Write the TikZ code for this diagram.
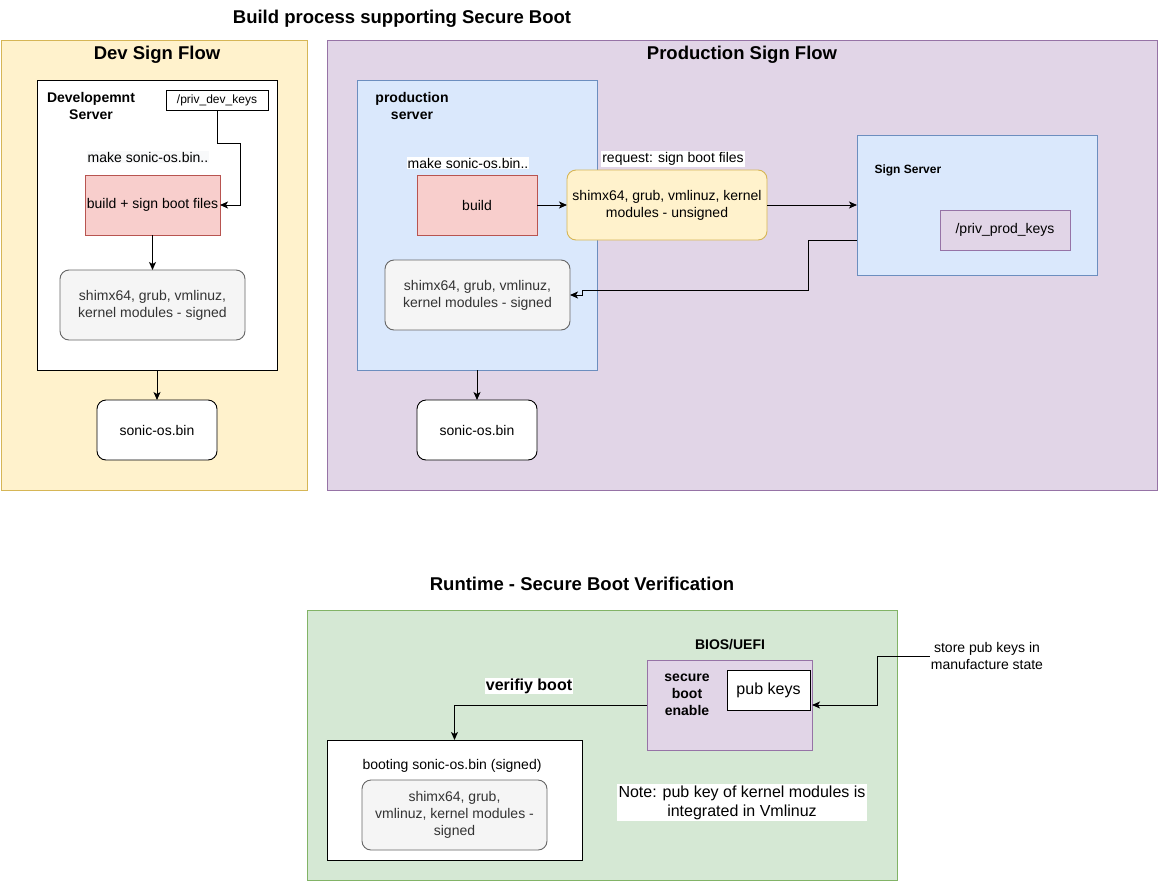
\documentclass[tikz,border=0pt]{standalone}
\usepackage{fontspec}
\setmainfont{Liberation Sans}
\usetikzlibrary{arrows.meta,calc}
\definecolor{yelF}{HTML}{FFF2CC}\definecolor{yelS}{HTML}{D6B656}
\definecolor{purF}{HTML}{E1D5E7}\definecolor{purS}{HTML}{9673A6}
\definecolor{bluF}{HTML}{DAE8FC}\definecolor{bluS}{HTML}{6C8EBF}
\definecolor{redF}{HTML}{F8CECC}\definecolor{redS}{HTML}{B85450}
\definecolor{greF}{HTML}{D5E8D4}\definecolor{greS}{HTML}{82B366}
\definecolor{gryF}{HTML}{F5F5F5}\definecolor{gryS}{HTML}{666666}
\definecolor{gryT}{HTML}{333333}\definecolor{offW}{HTML}{F8F9FA}
\begin{document}
\begin{tikzpicture}[x=1pt,y=-1pt,
  box/.style={draw, line width=0.9pt, inner sep=0pt, outer sep=0pt, align=center},
  cont/.style={box},
  t12/.style={font=\fontsize{12}{14}\selectfont},
  t14/.style={font=\fontsize{14}{17}\selectfont},
  t16/.style={font=\fontsize{16}{19}\selectfont},
  b12/.style={font=\fontsize{12}{14}\selectfont\bfseries},
  b14/.style={font=\fontsize{14}{17}\selectfont\bfseries},
  b16/.style={font=\fontsize{16}{19}\selectfont\bfseries},
  b18/.style={font=\fontsize{18.5}{22}\selectfont\bfseries},
  redbox/.style={box, fill=redF, draw=redS, t14},
  grybox/.style={box, fill=gryF, draw=gryS, text=gryT, rounded corners=9pt, t14},
  binbox/.style={box, fill=white, draw=black, rounded corners=9pt, t14},
  lbl/.style={inner sep=1pt, align=center},
  arr/.style={draw, line width=1pt, -{Stealth[length=8pt,width=7pt,inset=2pt]}},
  ln/.style={draw, line width=1pt}
]
\useasboundingbox (0,0) rectangle (1159,881);

% titles
\node[b18] (title) at (402,19) {Build process supporting Secure Boot};

% ---------------- Dev Sign Flow ----------------
\node[cont, fill=yelF, draw=yelS, minimum width=306, minimum height=450] (devc) at (154,265) {};
\node[b18] (devt) at (157,55) {Dev Sign Flow};
\node[box, fill=white, draw=black, minimum width=240, minimum height=290] (devs) at (157,225) {};
\node[b14, lbl] (devst) at (91,106) {Developemnt\\Server};
\node[box, fill=white, draw=black, minimum width=102, minimum height=20, t12] (dkeys) at (217,100) {/priv\_dev\_keys};
\node[lbl, fill=offW, t14] (dmake) at (148,157) {make sonic-os.bin..};
\node[redbox, minimum width=135, minimum height=60] (dbuild) at (152.5,205) {build + sign boot files};
\node[grybox, minimum width=185, minimum height=70] (dsigned) at (152.5,305) {shimx64, grub, vmlinuz,\\kernel modules - signed};
\node[binbox, minimum width=120, minimum height=60] (dbin) at (157,430) {sonic-os.bin};

\draw[arr] (dkeys.south) -- ++(0,33) -- ++(23,0) |- (dbuild.east);
\draw[arr] (dbuild.south) -- (dsigned.north);
\draw[arr] (devs.south) -- (dbin.north);

% ---------------- Production Sign Flow ----------------
\node[cont, fill=purF, draw=purS, minimum width=830, minimum height=450] (proc) at (742,265) {};
\node[b18] (prot) at (742,55) {Production Sign Flow};
\node[box, fill=bluF, draw=bluS, minimum width=240, minimum height=290] (pros) at (477,225) {};
\node[b14, lbl] (prost) at (412,106) {production\\server};
\node[lbl, fill=white, t14] (pmake) at (468,163) {make sonic-os.bin..};
\node[redbox, minimum width=120, minimum height=60] (pbuild) at (477,205) {build};
\node[box, fill=yelF, draw=yelS, rounded corners=9pt, t14, minimum width=200, minimum height=70] (unsig) at (667,205) {shimx64, grub, vmlinuz, kernel\\modules - unsigned};
\node[lbl, fill=white, t14] (req) at (673,159) {request: sign boot files};
\node[box, fill=bluF, draw=bluS, minimum width=240, minimum height=140] (sign) at (977,205) {};
\node[b12, anchor=west] (signt) at (871,170) {Sign Server};
\node[box, fill=purF, draw=purS, minimum width=130, minimum height=40, t14] (pkeys) at (1005,230) {/priv\_prod\_keys};
\node[grybox, minimum width=185, minimum height=70] (psigned) at (477.5,295) {shimx64, grub, vmlinuz,\\kernel modules - signed};
\node[binbox, minimum width=120, minimum height=60] (pbin) at (477,430) {sonic-os.bin};

\draw[arr] (pbuild.east) -- (unsig.west);
\draw[arr] (unsig.east) -- (sign.west);
\draw[arr] ($(sign.west)+(0,35)$) -- ++(-49,0) -- ++(0,50) -- ++(-226,0) |- (psigned.east);
\draw[arr] (pros.south) -- (pbin.north);

% ---------------- Runtime ----------------
\node[b18] (rtitle) at (582,584) {Runtime - Secure Boot Verification};
\node[cont, fill=greF, draw=greS, minimum width=590, minimum height=270] (grn) at (602,745) {};
\node[b14] (biost) at (730,645) {BIOS/UEFI};
\node[box, fill=purF, draw=purS, minimum width=165, minimum height=90] (bios) at (729.5,705) {};
\node[b14, lbl] (sbe) at (687,695) {secure\\boot\\enable};
\node[box, fill=white, draw=black, minimum width=83, minimum height=40, t16] (pub) at (768.5,690) {pub keys};
\node[lbl, t14] (store) at (987,656) {store pub keys in\\manufacture state};
\node[lbl, fill=white, b16] (verify) at (529,686) {verifiy boot};
\node[box, fill=white, draw=black, minimum width=255, minimum height=120] (boot) at (454.5,800) {};
\node[t14] (boott) at (452,766) {booting sonic-os.bin (signed)};
\node[grybox, minimum width=185, minimum height=70] (bsigned) at (454.5,815) {shimx64, grub,\\vmlinuz, kernel modules -\\signed};
\node[fill=white, t16, align=center, inner sep=0pt, minimum width=250, minimum height=37] (note) at (742,802.5) {Note: pub key of kernel modules is\\integrated in Vmlinuz};

\draw[arr] (bios.west) -| (boot.north);
\draw[arr] (store.west) -- ++(-52,0) |- (bios.east);
\end{tikzpicture}
\end{document}
